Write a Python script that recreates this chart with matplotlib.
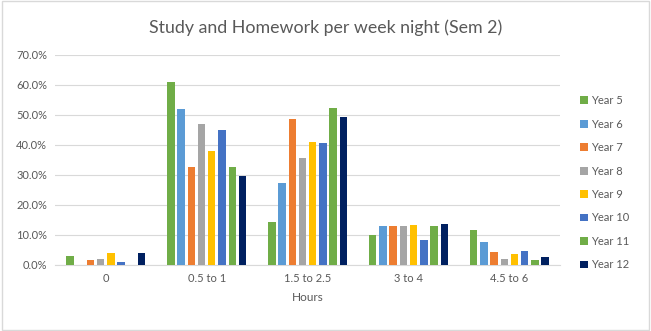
import matplotlib.pyplot as plt
import numpy as np
from matplotlib.patches import Rectangle
from matplotlib.ticker import FuncFormatter

plt.rcParams['font.family'] = ['Lato', 'DejaVu Sans']

# categories on the x axis
hours = ["0", "0.5 to 1", "1.5 to 2.5", "3 to 4", "4.5 to 6"]
years = ["Year 5", "Year 6", "Year 7", "Year 8", "Year 9", "Year 10", "Year 11", "Year 12"]

# percentage of students per hours bucket, one list per year
year5 = [2.9, 60.8, 14.3, 9.9, 11.5]
year6 = [0.0, 52.0, 27.2, 12.9, 7.5]
year7 = [1.5, 32.5, 48.4, 12.9, 4.2]
year8 = [2.0, 47.0, 35.5, 12.9, 1.9]
year9 = [4.0, 37.8, 40.8, 13.2, 3.6]
year10 = [1.0, 45.0, 40.4, 8.2, 4.5]
year11 = [0.0, 32.5, 52.3, 12.9, 1.6]
year12 = [4.0, 29.5, 49.3, 13.5, 2.6]

series = [year5, year6, year7, year8, year9, year10, year11, year12]
colors = ["#70AD47", "#5B9BD5", "#ED7D31", "#A5A5A5", "#FFC000", "#4472C4", "#70AD47", "#002060"]

fig = plt.figure(figsize=(6.51, 3.31), dpi=100)
ax = fig.add_axes([0.085, 0.2, 0.775, 0.635])

x = np.arange(len(hours))
slot = 0.81 / len(series)
for i, (vals, c, name) in enumerate(zip(series, colors, years)):
    off = (i - (len(series) - 1) / 2) * slot
    ax.bar(x + off, vals, width=slot * 0.72, color=c, label=name, zorder=3)

ax.set_xlim(-0.5, len(hours) - 0.5)
ax.set_ylim(0, 70)
ax.set_yticks(np.arange(0, 71, 10))
ax.yaxis.set_major_formatter(FuncFormatter(lambda v, p: f"{v:.1f}%"))
ax.set_xticks(x)
ax.set_xticklabels(hours)
ax.grid(axis='y', color="#d9d9d9", linewidth=0.8, zorder=0)
for s in ["top", "right", "left"]:
    ax.spines[s].set_visible(False)
ax.spines["bottom"].set_color("#d9d9d9")
ax.tick_params(axis='both', length=0, labelsize=8, labelcolor="#595959", pad=6)
ax.set_xlabel("Hours", fontsize=8.5, color="#595959", labelpad=6)

fig.suptitle("Study and Homework per week night (Sem 2)", fontsize=12.8, color="#595959", y=0.94)

leg = ax.legend(loc="center left", bbox_to_anchor=(1.02, 0.39), frameon=False,
                fontsize=8, labelcolor="#595959", handlelength=0.7, handleheight=0.7,
                handletextpad=0.3, labelspacing=1.12)

fig.patches.append(Rectangle((0.003, 0.003), 0.994, 0.994, transform=fig.transFigure,
                             fill=False, edgecolor="#d9d9d9", linewidth=1))

fig.savefig("out.png", dpi=100)
